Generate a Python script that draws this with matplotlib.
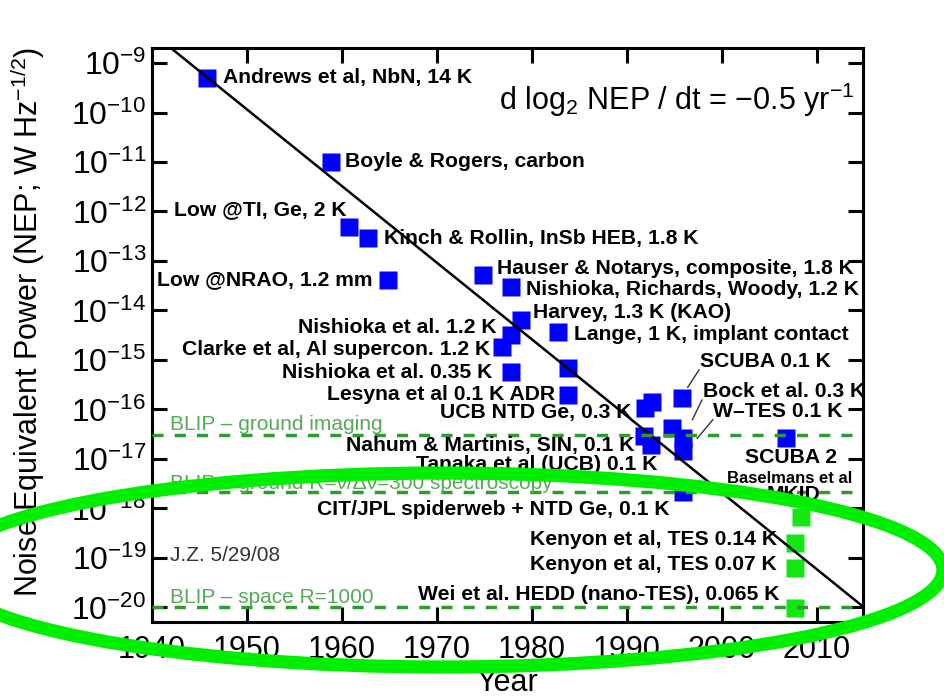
import matplotlib.pyplot as plt
from matplotlib.patches import Ellipse
from matplotlib.ticker import FixedLocator, LogFormatterMathtext

plt.rcParams['font.family'] = ['Liberation Sans', 'DejaVu Sans']
plt.rcParams['mathtext.fontset'] = 'custom'
plt.rcParams['mathtext.rm'] = 'Liberation Sans'
plt.rcParams['mathtext.it'] = 'Liberation Sans:italic'
plt.rcParams['mathtext.bf'] = 'Liberation Sans:bold'

# detector NEP history (blue = older results)
blue_years = [1945.8, 1958.8, 1960.7, 1962.7, 1964.8, 1974.8, 1977.8, 1978.8,
              1977.8, 1976.8, 1977.8, 1982.7, 1983.8, 1983.8, 1991.9, 1992.6,
              1995.8, 1991.8, 1992.5, 1994.8, 1995.9, 1995.9, 2006.8, 1995.9]
blue_nep = [5.0e-10, 1.0e-11, 4.9e-13, 2.9e-13, 4.2e-14, 5.2e-14, 3.0e-14, 6.4e-15,
            3.2e-15, 1.8e-15, 5.7e-16, 3.7e-15, 6.9e-16, 1.95e-16, 1.07e-16, 1.4e-16,
            1.7e-16, 2.9e-17, 1.9e-17, 4.3e-17, 2.6e-17, 1.45e-17, 2.6e-17, 2.1e-18]

# recent results (green)
green_years = [2008.3, 2007.7, 2007.7, 2007.7]
green_nep = [6.8e-19, 2.0e-19, 6.3e-20, 9.8e-21]

# trend line d log2 NEP / dt = -0.5 / yr
trend_years = [1942.0, 2014.7]
trend_nep = [2.0e-9, 1.1e-20]

# background limits
blip_nep = [3.0e-17, 2.1e-18, 1.0e-20]
blip_labels = ['BLIP \u2013 ground imaging',
               'BLIP \u2013 ground R=\u03bd/\u0394\u03bd=300 spectroscopy',
               'BLIP \u2013 space R=1000']

labels = ['Andrews et al, NbN, 14 K', 'Boyle & Rogers, carbon', 'Low @TI, Ge, 2 K',
          'Kinch & Rollin, InSb HEB, 1.8 K', 'Low @NRAO, 1.2 mm',
          'Hauser & Notarys, composite, 1.8 K', 'Nishioka, Richards, Woody, 1.2 K',
          'Harvey, 1.3 K (KAO)', 'Lange, 1 K, implant contact', 'Nishioka et al. 1.2 K',
          'Clarke et al, Al supercon. 1.2 K', 'Nishioka et al. 0.35 K',
          'Lesyna et al 0.1 K ADR', 'UCB NTD Ge, 0.3 K', 'SCUBA 0.1 K', 'Bock et al. 0.3 K',
          'W\u2013TES 0.1 K', 'Nahum & Martinis, SIN, 0.1 K', 'Tanaka et al (UCB) 0.1 K',
          'SCUBA 2', 'MKID', 'CIT/JPL spiderweb + NTD Ge, 0.1 K',
          'Kenyon et al, TES 0.14 K', 'Kenyon et al, TES 0.07 K',
          'Wei et al. HEDD (nano-TES), 0.065 K']
# label anchors (year, NEP, alignment)
label_pos = [(1947.5, 5.2e-10, 'left'), (1960.3, 1.0e-11, 'left'), (1960.5, 1.07e-12, 'right'),
             (1964.4, 2.9e-13, 'left'), (1963.2, 4.2e-14, 'right'),
             (1976.3, 6.9e-14, 'left'), (1979.4, 2.7e-14, 'left'),
             (1980.1, 8.9e-15, 'left'), (1984.4, 3.2e-15, 'left'), (1976.3, 4.5e-15, 'right'),
             (1975.6, 1.6e-15, 'right'), (1975.8, 5.5e-16, 'right'),
             (1982.4, 1.96e-16, 'right'), (1990.5, 8.5e-17, 'right'), (1997.7, 9.1e-16, 'left'),
             (1998.0, 2.3e-16, 'left'), (1999.05, 8.9e-17, 'left'),
             (1990.8, 1.9e-17, 'right'), (1993.2, 7.6e-18, 'right'),
             (2002.4, 1.05e-17, 'left'), (2004.7, 1.9e-18, 'left'), (1994.5, 9.3e-19, 'right'),
             (2005.8, 2.3e-19, 'right'), (2005.8, 7.2e-20, 'right'),
             (2006.1, 1.8e-20, 'right')]
leaders = [([1996.4, 1997.6], [2.8e-16, 6.3e-16]),
           ([1996.9, 1997.9], [6.2e-17, 1.55e-16]),
           ([1997.4, 1999.05], [2.6e-17, 6.2e-17])]

fig = plt.figure(figsize=(9.44, 6.96), dpi=100)
ax = fig.add_axes([0.161, 0.106, 0.753, 0.825])

ax.plot(blue_years, blue_nep, 's', color='#0000ff', markersize=13, mec='none', zorder=2)
ax.plot(green_years, green_nep, 's', color='#14e614', markersize=13, mec='none', zorder=2)
ax.plot(trend_years, trend_nep, color='black', lw=1.8, zorder=3)
for nep in blip_nep:
    ax.axhline(nep, color='#2f9a2f', lw=2.5, ls=(0, (3.2, 3.2)), zorder=3)

for txt, (x, y, ha) in zip(labels, label_pos):
    ax.text(x, y, txt, ha=ha, va='center', fontsize=15.2, fontweight='bold', zorder=4)
ax.text(2000.5, 4.0e-18, 'Baselmans et al', ha='left', va='center', fontsize=12,
        fontweight='bold', zorder=4)
for xs, ys in leaders:
    ax.plot(xs, ys, color='#333333', lw=1, zorder=4)

blip_y = [4.9e-17, 3.2e-18, 1.6e-20]
for txt, y in zip(blip_labels, blip_y):
    ax.text(1941.9, y, txt, ha='left', va='center', fontsize=15, color='#55aa55', zorder=4)
ax.text(1941.9, 1.1e-19, 'J.Z. 5/29/08', ha='left', va='center', fontsize=15, color='#333333')
ax.text(2014.0, 1.8e-10, r'd log$_2$ NEP / dt = $-$0.5 yr$^{-1}$', ha='right', va='center',
        fontsize=22)

ax.set_yscale('log')
ax.set_xlim(1940, 2014.84)
ax.set_ylim(10 ** -20.3, 10 ** -8.697)
ax.set_xticks(range(1940, 2011, 10))
ax.yaxis.set_major_locator(FixedLocator([10.0 ** e for e in range(-20, -8)]))
ax.yaxis.set_major_formatter(LogFormatterMathtext())
ax.yaxis.set_minor_locator(FixedLocator([]))
ax.tick_params(direction='in', length=11, width=2.2, top=True, right=True, labelsize=22)
ax.tick_params(axis='y', labelsize=23, pad=4)
ax.tick_params(axis='x', pad=9)
for s in ax.spines.values():
    s.set_linewidth(2.2)

ax.set_xlabel('Year', fontsize=22, labelpad=2)
fig.text(28 / 944, 1 - 322 / 696, r'Noise Equivalent Power (NEP; W Hz$^{-1/2}$)',
         rotation=90, ha='center', va='center', fontsize=22)

# highlight ellipse drawn over the figure
fig.add_artist(Ellipse((443 / 944, 1 - 570 / 696), 1000 / 944, 194 / 696,
                       transform=fig.transFigure, fill=False, ec='#00ee00', lw=9.5,
                       zorder=10, clip_on=False))

fig.savefig('out.png', dpi=100)
